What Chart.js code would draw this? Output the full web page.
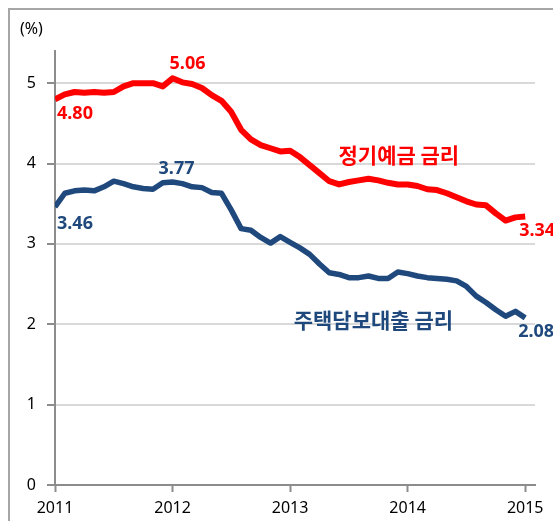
<!DOCTYPE html>
<html>
<head>
<meta charset="utf-8">
<script src="https://cdn.jsdelivr.net/npm/chart.js@4.4.1/dist/chart.umd.min.js"></script>
<style>
  html, body { margin: 0; padding: 0; background: #fff; overflow: hidden; }
  #wrap { position: relative; width: 553px; height: 521px; overflow: hidden; }
  #frame { position: absolute; left: 8px; top: 8px; width: 700px; height: 700px; border: 2px solid #a6a6a6; }
  #chart { position: absolute; left: 0; top: 0; }
</style>
</head>
<body>
<div id="wrap">
  <div id="frame"></div>
  <canvas id="chart" width="553" height="521"></canvas>
</div>
<script>
// monthly, 2011.01 ~ 2015.01
const years = ['2011', '2012', '2013', '2014', '2015'];
const yTicks = [0, 1, 2, 3, 4, 5];

const depositName = '정기예금 금리';
const deposit = [
  4.80, 4.86, 4.89, 4.88, 4.89, 4.88, 4.89, 4.96, 5.00, 5.00, 5.00, 4.96,
  5.06, 5.01, 4.99, 4.94, 4.85, 4.78, 4.64, 4.42, 4.30, 4.23, 4.19, 4.15,
  4.16, 4.08, 3.98, 3.88, 3.78, 3.74, 3.77, 3.79, 3.81, 3.79, 3.76, 3.74,
  3.74, 3.72, 3.68, 3.67, 3.63, 3.58, 3.53, 3.49, 3.48, 3.38, 3.29, 3.33, 3.34
];

const mortgageName = '주택담보대출 금리';
const mortgage = [
  3.46, 3.63, 3.66, 3.67, 3.66, 3.71, 3.78, 3.75, 3.71, 3.69, 3.68, 3.76,
  3.77, 3.75, 3.71, 3.70, 3.64, 3.63, 3.42, 3.19, 3.17, 3.08, 3.01, 3.09,
  3.02, 2.95, 2.87, 2.75, 2.64, 2.62, 2.58, 2.58, 2.60, 2.57, 2.57, 2.65,
  2.63, 2.60, 2.58, 2.57, 2.56, 2.54, 2.47, 2.35, 2.27, 2.18, 2.10, 2.16, 2.08
];

const RED = '#ff0000';
const BLUE = '#1f497d';

const toPoints = arr => arr.map((v, i) => ({ x: i, y: v }));

// value labels + series names
const textPlugin = {
  id: 'texts',
  afterDatasetsDraw(chart) {
    const ctx = chart.ctx;
    const xs = chart.scales.x, ys = chart.scales.y;
    const px = i => xs.getPixelForValue(i);
    const py = v => ys.getPixelForValue(v);
    const last = deposit.length - 1;
    const peak = 12;

    ctx.save();
    ctx.textBaseline = 'middle';
    ctx.font = 'bold 18px "Noto Sans"';

    ctx.fillStyle = RED;
    ctx.textAlign = 'left';
    ctx.fillText(deposit[0].toFixed(2), px(0) + 2, py(deposit[0]) + 15);
    ctx.fillText(deposit[last].toFixed(2), px(last) - 6, py(deposit[last]) + 14);
    ctx.textAlign = 'center';
    ctx.fillText(deposit[peak].toFixed(2), px(peak) + 15, py(deposit[peak]) - 14);

    ctx.fillStyle = BLUE;
    ctx.textAlign = 'left';
    ctx.fillText(mortgage[0].toFixed(2), px(0) + 2, py(mortgage[0]) + 17);
    ctx.fillText(mortgage[last].toFixed(2), px(last) - 7, py(mortgage[last]) + 14);
    ctx.textAlign = 'center';
    ctx.fillText(mortgage[peak].toFixed(2), px(peak) + 4, py(mortgage[peak]) - 13);

    ctx.font = 'bold 21px "Noto Sans CJK KR"';
    ctx.fillStyle = RED;
    ctx.fillText(depositName, px(35.1), py(4.10));
    ctx.fillStyle = BLUE;
    ctx.fillText(mortgageName, px(32.5), py(2.05));

    ctx.fillStyle = '#000';
    ctx.font = '16px "Noto Sans"';
    ctx.textAlign = 'left';
    ctx.fillText('(%)', 20, 29);
    ctx.restore();
  }
};

new Chart(document.getElementById('chart'), {
  type: 'line',
  data: {
    datasets: [
      {
        label: depositName,
        data: toPoints(deposit),
        borderColor: RED,
        borderWidth: 6,
        pointRadius: 0,
        tension: 0,
        borderJoinStyle: 'round'
      },
      {
        label: mortgageName,
        data: toPoints(mortgage),
        borderColor: BLUE,
        borderWidth: 5.5,
        pointRadius: 0,
        tension: 0,
        borderJoinStyle: 'round'
      }
    ]
  },
  options: {
    responsive: false,
    animation: false,
    layout: { padding: { top: 51, right: 18, left: 0, bottom: 0 } },
    plugins: {
      legend: { display: false },
      tooltip: { enabled: false }
    },
    scales: {
      x: {
        type: 'linear',
        min: 0,
        max: 49,
        afterFit(scale) { scale.height = 36; },
        afterBuildTicks(scale) {
          scale.ticks = years.map((y, i) => ({ value: i * 12 }));
        },
        ticks: {
          maxRotation: 0,
          padding: 7,
          color: '#000',
          font: { family: 'Noto Sans', size: 16 },
          callback: v => years[v / 12]
        },
        grid: {
          drawOnChartArea: false,
          drawTicks: true,
          tickLength: 7,
          tickColor: '#8c8c8c',
          tickWidth: 2
        },
        border: { color: '#8c8c8c', width: 2 }
      },
      y: {
        min: 0,
        max: 5.4,
        afterFit(scale) { scale.width = 55; },
        afterBuildTicks(scale) {
          scale.ticks = yTicks.map(v => ({ value: v }));
        },
        ticks: {
          padding: 11,
          color: '#000',
          font: { family: 'Noto Sans', size: 16 }
        },
        grid: {
          color: '#d9d9d9',
          lineWidth: 2,
          tickLength: 8,
          tickColor: '#8c8c8c',
          tickWidth: 2
        },
        border: { color: '#8c8c8c', width: 2 }
      }
    }
  },
  plugins: [textPlugin]
});
</script>
</body>
</html>
